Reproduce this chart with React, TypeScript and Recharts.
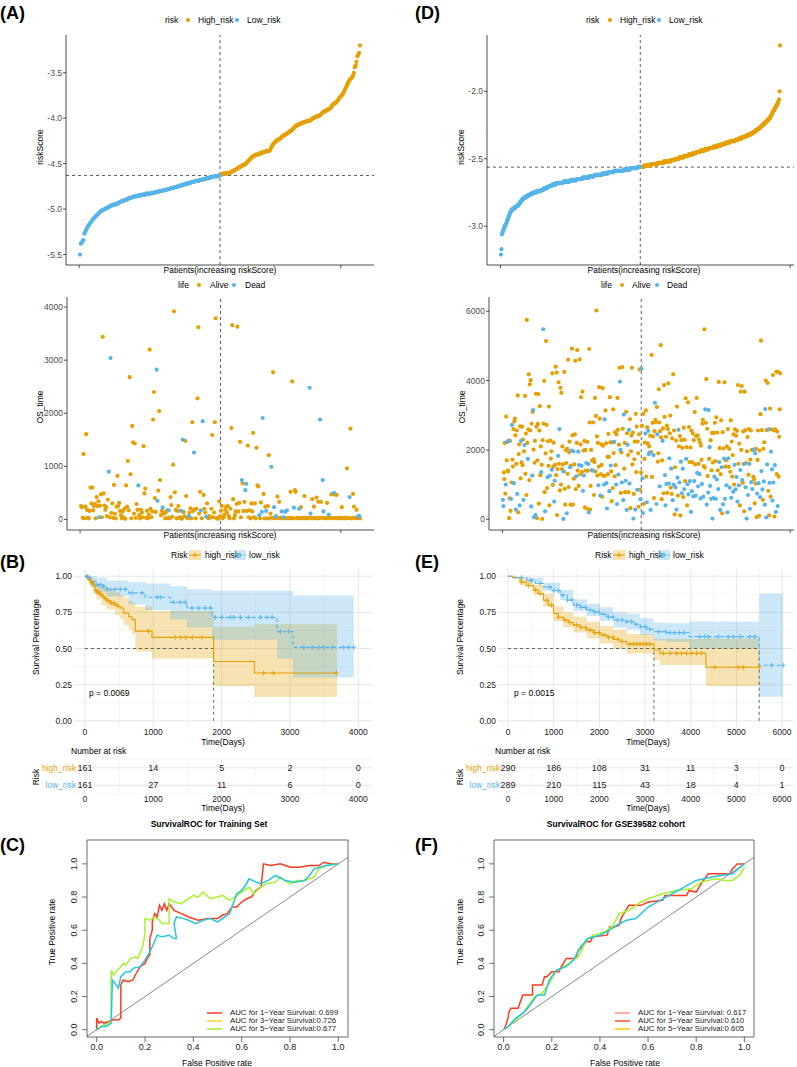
import React from 'react';
import {
  ScatterChart, Scatter, ComposedChart, Line, Area, XAxis, YAxis,
  CartesianGrid, ReferenceLine, ReferenceArea,
} from 'recharts';

const ORANGE = '#E69F00';
const BLUE = '#56B4E9';
const FONT = '"Liberation Sans", Arial, Helvetica, sans-serif';
const AXIS_TEXT = '#4D4D4D';

// ---------- training set: sorted risk scores ----------
const trainLowScore = [
  -5.50, -5.38, -5.37, -5.35, -5.34, -5.27, -5.25, -5.23, -5.21, -5.19,
  -5.18, -5.16, -5.15, -5.14, -5.12, -5.11, -5.10, -5.09, -5.08, -5.07,
  -5.06, -5.05, -5.04, -5.03, -5.02, -5.02, -5.01, -5.01, -5.00, -5.00,
  -4.99, -4.99, -4.98, -4.98, -4.97, -4.97, -4.96, -4.96, -4.95, -4.95,
  -4.95, -4.95, -4.94, -4.94, -4.93, -4.93, -4.92, -4.92, -4.91, -4.91,
  -4.91, -4.90, -4.90, -4.90, -4.89, -4.89, -4.88, -4.88, -4.88, -4.87,
  -4.87, -4.87, -4.86, -4.86, -4.86, -4.86, -4.86, -4.85, -4.85, -4.85,
  -4.85, -4.84, -4.84, -4.84, -4.84, -4.84, -4.83, -4.83, -4.83, -4.83,
  -4.83, -4.83, -4.82, -4.82, -4.82, -4.82, -4.82, -4.81, -4.81, -4.81,
  -4.81, -4.80, -4.80, -4.80, -4.80, -4.80, -4.79, -4.79, -4.79, -4.79,
  -4.78, -4.78, -4.78, -4.78, -4.77, -4.77, -4.77, -4.77, -4.76, -4.76,
  -4.76, -4.76, -4.75, -4.75, -4.75, -4.74, -4.74, -4.74, -4.73, -4.73,
  -4.73, -4.72, -4.72, -4.72, -4.72, -4.71, -4.71, -4.71, -4.70, -4.70,
  -4.70, -4.70, -4.69, -4.69, -4.69, -4.69, -4.69, -4.68, -4.68, -4.68,
  -4.68, -4.67, -4.67, -4.67, -4.67, -4.66, -4.66, -4.66, -4.66, -4.65,
  -4.65, -4.65, -4.65, -4.64, -4.64, -4.64, -4.64, -4.64, -4.64, -4.63,
  -4.63,
];
const trainHighScore = [
  -4.62, -4.62, -4.62, -4.61, -4.61, -4.61, -4.61, -4.61, -4.60, -4.60,
  -4.60, -4.60, -4.60, -4.59, -4.58, -4.58, -4.57, -4.57, -4.56, -4.56,
  -4.55, -4.54, -4.54, -4.53, -4.53, -4.52, -4.52, -4.51, -4.51, -4.50,
  -4.49, -4.48, -4.47, -4.46, -4.45, -4.44, -4.43, -4.42, -4.42, -4.41,
  -4.41, -4.40, -4.40, -4.40, -4.39, -4.39, -4.39, -4.38, -4.38, -4.37,
  -4.37, -4.37, -4.37, -4.36, -4.36, -4.36, -4.36, -4.35, -4.33, -4.31,
  -4.29, -4.28, -4.27, -4.26, -4.25, -4.24, -4.24, -4.23, -4.23, -4.22,
  -4.21, -4.20, -4.19, -4.19, -4.18, -4.18, -4.17, -4.16, -4.16, -4.15,
  -4.14, -4.14, -4.13, -4.12, -4.11, -4.10, -4.09, -4.08, -4.08, -4.07,
  -4.07, -4.06, -4.06, -4.05, -4.05, -4.05, -4.04, -4.04, -4.04, -4.03,
  -4.03, -4.03, -4.03, -4.02, -4.02, -4.01, -4.00, -4.00, -3.99, -3.99,
  -3.98, -3.98, -3.98, -3.97, -3.97, -3.96, -3.95, -3.94, -3.93, -3.93,
  -3.92, -3.92, -3.91, -3.91, -3.90, -3.90, -3.89, -3.88, -3.86, -3.85,
  -3.84, -3.84, -3.83, -3.82, -3.81, -3.80, -3.78, -3.77, -3.76, -3.75,
  -3.74, -3.72, -3.70, -3.68, -3.66, -3.64, -3.62, -3.60, -3.58, -3.57,
  -3.56, -3.55, -3.53, -3.50, -3.44, -3.42, -3.38, -3.32, -3.30, -3.28,
  -3.20,
];
const trainCutoff = -4.63;

// overall survival (days), same patient order as the scores
const trainOsTime = [
  250, 230, 30, 1230, 20, 240, 1605, 180, 30, 20,
  160, 600, 300, 600, 170, 250, 290, 20, 420, 250,
  340, 40, 260, 470, 40, 3440, 490, 260, 180, 230,
  60, 370, 900, 40, 3040, 120, 300, 30, 650, 110,
  20, 240, 820, 250, 310, 160, 80, 20, 150, 40,
  200, 10, 640, 240, 1100, 170, 2680, 850, 20, 1760,
  1450, 110, 1430, 30, 290, 180, 640, 80, 20, 180,
  130, 40, 1380, 490, 580, 30, 160, 20, 90, 3200,
  200, 40, 150, 1880, 2400, 400, 140, 2820, 350, 540,
  2040, 740, 80, 160, 220, 120, 110, 20, 140, 170,
  30, 170, 20, 420, 270, 50, 1030, 3920, 510, 180,
  20, 160, 250, 30, 40, 160, 10, 1500, 140, 60,
  1480, 440, 30, 20, 60, 130, 210, 20, 1830, 160,
  1260, 190, 20, 200, 2280, 3620, 110, 520, 170, 20,
  1850, 460, 200, 130, 50, 300, 30, 20, 60, 40,
  200, 1590, 40, 130, 1830, 3790, 20, 30, 10, 340, 60,
  160, 250, 20, 40, 90, 180, 240, 130, 250, 60,
  20, 200, 1720, 3660, 380, 20, 80, 150, 290, 3630,
  150, 310, 1460, 40, 740, 680, 160, 330, 550, 670,
  160, 1390, 40, 170, 20, 300, 150, 1630, 40, 300,
  20, 1350, 640, 620, 80, 20, 320, 140, 1910, 480,
  20, 240, 160, 20, 250, 1210, 20, 110, 990, 30,
  2770, 230, 20, 60, 30, 430, 20, 330, 30, 25,
  150, 20, 40, 25, 140, 20, 170, 25, 30, 20,
  520, 25, 2600, 20, 220, 550, 520, 25, 30, 20,
  200, 25, 230, 20, 30, 25, 440, 20, 30, 25,
  20, 30, 2480, 110, 25, 380, 20, 240, 30, 25,
  410, 20, 330, 25, 1880, 330, 30, 740, 150, 20,
  25, 30, 310, 20, 90, 25, 30, 470, 20, 25,
  500, 470, 25, 460, 20, 30, 25, 20, 30, 230,
  25, 20, 30, 25, 20, 960, 30, 25, 420, 1710,
  20, 25, 480, 240, 30, 20, 180, 25, 60, 60, 20,
];
// 1-based patient positions whose status is Dead
const trainDeadIdx = [
  22, 33, 35, 67, 88, 89, 95, 102, 116, 118, 125, 131, 139, 141, 145,
  186, 190, 191, 206, 209, 210, 214, 220, 223, 225, 232, 234, 236, 238,
  246, 252, 264, 265, 276, 279, 280, 286, 292, 310, 320, 321,
];

// ---------- GSE39582: sorted risk scores ----------
const gseLowScore = [
  -3.21, -3.17, -3.06, -3.05, -3.04, -3.03, -3.02, -3.01, -3.00, -2.99, -2.99, -2.98, -2.97, -2.96,
  -2.95, -2.94, -2.93, -2.92, -2.91, -2.90, -2.89, -2.89, -2.88, -2.88, -2.87, -2.87, -2.87,
  -2.87, -2.86, -2.86, -2.86, -2.86, -2.85, -2.85, -2.85, -2.85, -2.84,
  -2.84, -2.83, -2.83, -2.82, -2.82, -2.81, -2.81, -2.80, -2.80, -2.80,
  -2.79, -2.79, -2.79, -2.79, -2.78, -2.78, -2.78, -2.78, -2.78, -2.77, -2.77, -2.77, -2.77, -2.77,
  -2.76, -2.76, -2.76, -2.76, -2.76, -2.75, -2.75, -2.75, -2.75, -2.75, -2.75, -2.75, -2.75,
  -2.74, -2.74, -2.74, -2.74, -2.74, -2.74, -2.74, -2.74,
  -2.74, -2.73, -2.73, -2.73, -2.73, -2.73, -2.73, -2.72, -2.72, -2.72, -2.72, -2.72, -2.72,
  -2.71, -2.71, -2.71, -2.71, -2.71, -2.70, -2.70, -2.70,
  -2.70, -2.70, -2.70, -2.70, -2.69, -2.69, -2.69, -2.69, -2.69, -2.69, -2.69, -2.69,
  -2.68, -2.68, -2.68, -2.68, -2.68, -2.68, -2.68, -2.68,
  -2.68, -2.68, -2.68, -2.68, -2.68, -2.68, -2.67, -2.67, -2.67, -2.67, -2.67, -2.67, -2.67,
  -2.67, -2.67, -2.67, -2.67, -2.67, -2.67, -2.67, -2.66, -2.66, -2.66, -2.66, -2.66, -2.66, -2.66, -2.66,
  -2.66, -2.66, -2.66, -2.66, -2.66, -2.66, -2.65, -2.65, -2.65, -2.65, -2.65, -2.65, -2.65, -2.65,
  -2.65, -2.65, -2.65, -2.65, -2.64, -2.64, -2.64, -2.64, -2.64, -2.64, -2.64, -2.64, -2.64, -2.64,
  -2.64, -2.64, -2.64, -2.64, -2.63, -2.63, -2.63, -2.63, -2.63, -2.63, -2.63, -2.63, -2.63, -2.63, -2.63,
  -2.62, -2.62, -2.62, -2.62, -2.62, -2.62, -2.62, -2.62, -2.62, -2.62, -2.62, -2.62,
  -2.62, -2.62, -2.62, -2.62, -2.61, -2.61, -2.61, -2.61, -2.61, -2.61, -2.61, -2.61, -2.61, -2.61, -2.61, -2.61,
  -2.60, -2.60, -2.60, -2.60, -2.60, -2.60, -2.60, -2.60, -2.60, -2.60, -2.60, -2.60,
  -2.59, -2.59, -2.59, -2.59, -2.59, -2.59,
  -2.59, -2.59, -2.59, -2.59, -2.59, -2.59, -2.59, -2.59, -2.59, -2.59, -2.59, -2.59, -2.59, -2.59,
  -2.58, -2.58, -2.58, -2.58, -2.58, -2.58, -2.58, -2.58, -2.58, -2.58, -2.58, -2.58, -2.58, -2.58,
  -2.57, -2.57, -2.57, -2.57, -2.57, -2.57, -2.57,
  -2.57, -2.57, -2.57, -2.57, -2.57, -2.57, -2.57, -2.57, -2.56, -2.56, -2.56, -2.56, -2.56, -2.56,
];
const gseHighScore = [
  -2.56, -2.56, -2.56, -2.56, -2.56, -2.56, -2.56, -2.56,
  -2.55, -2.55, -2.55, -2.55, -2.55, -2.55, -2.55, -2.55, -2.55, -2.55, -2.55, -2.55, -2.55, -2.55,
  -2.54, -2.54, -2.54, -2.54, -2.54, -2.54, -2.54, -2.54, -2.54, -2.54, -2.54, -2.54, -2.54, -2.54,
  -2.53, -2.53, -2.53, -2.53, -2.53, -2.53, -2.53, -2.53, -2.53, -2.53, -2.53, -2.53, -2.53,
  -2.52, -2.52, -2.52, -2.52, -2.52, -2.52,
  -2.52, -2.52, -2.52, -2.52, -2.52, -2.52, -2.52, -2.52,
  -2.51, -2.51, -2.51, -2.51, -2.51, -2.51, -2.51, -2.51, -2.51,
  -2.50, -2.50, -2.50, -2.50, -2.50, -2.50, -2.50, -2.50, -2.50,
  -2.49, -2.49, -2.49, -2.49, -2.49, -2.49, -2.49, -2.49, -2.49,
  -2.48, -2.48, -2.48, -2.48, -2.48, -2.48, -2.48, -2.48, -2.48,
  -2.47, -2.47, -2.47, -2.47, -2.47, -2.47, -2.47, -2.47, -2.47,
  -2.46, -2.46, -2.46, -2.46, -2.46, -2.46, -2.46, -2.46,
  -2.45, -2.45, -2.45, -2.45, -2.45, -2.45, -2.45, -2.45,
  -2.44, -2.44, -2.44, -2.44, -2.44, -2.44, -2.44, -2.44, -2.44,
  -2.43, -2.43, -2.43, -2.43, -2.43, -2.43, -2.43, -2.43, -2.43,
  -2.42, -2.42, -2.42, -2.42, -2.42, -2.42, -2.42, -2.42, -2.42,
  -2.41, -2.41, -2.41, -2.41, -2.41, -2.41, -2.41, -2.41, -2.41,
  -2.40, -2.40, -2.40, -2.40, -2.40, -2.40, -2.40, -2.40, -2.40,
  -2.39, -2.39, -2.39, -2.39, -2.39, -2.39, -2.39, -2.39,
  -2.38, -2.38, -2.38, -2.38, -2.38, -2.38, -2.38, -2.38,
  -2.37, -2.37, -2.37, -2.37, -2.37, -2.37, -2.37, -2.37,
  -2.37, -2.37, -2.37, -2.36, -2.36, -2.36, -2.36, -2.36, -2.36, -2.36,
  -2.35, -2.35, -2.35, -2.35, -2.35, -2.35, -2.35, -2.34, -2.34, -2.34, -2.34, -2.34, -2.34, -2.34,
  -2.33, -2.33, -2.33, -2.33, -2.33, -2.33, -2.32, -2.32, -2.32, -2.32, -2.32,
  -2.32, -2.32, -2.31, -2.31, -2.31, -2.31, -2.30, -2.30, -2.30, -2.30,
  -2.29, -2.29, -2.29, -2.29, -2.28, -2.28, -2.28, -2.28, -2.27, -2.27, -2.27,
  -2.26, -2.26, -2.26, -2.25, -2.25, -2.25, -2.24, -2.24, -2.24, -2.23,
  -2.23, -2.23, -2.22, -2.22, -2.22, -2.21, -2.21, -2.20, -2.20, -2.20,
  -2.19, -2.18, -2.18, -2.17, -2.16, -2.15, -2.15, -2.14, -2.14, -2.13,
  -2.12, -2.12, -2.11, -2.10, -2.10, -2.09, -2.08, -2.07,
  -2.06, -2.00, -1.66,
];
const gseCutoff = -2.562;

const gseOsTime = [
  560, 380, 1350, 1160, 2200, 740, 1000, 2960, 1700, 2230, 1400, 1380, 2270, 30, 600, 2260, 240, 590, 1060, 2720,
  1720, 1520, 2600, 1040, 2820, 2900, 2420, 280, 1600, 2560, 730, 3570, 200, 1880, 2160, 400, 2680, 1180, 2260, 1640,
  2670, 1560, 2300, 560, 1960, 2140, 3560, 1310, 2470, 700, 5750, 2200, 1740, 2590, 4180, 1130, 3890, 2560, 4010, 370,
  2760, 1260, 3100, 3150, 2010, 60, 1630, 2260, 120, 3620, 2670, 30, 1700, 2750, 3610, 450, 2560, 3260, 1270, 2100,
  1360, 1570, 10, 2280, 5480, 2760, 3990, 780, 230, 1900, 5140, 2720, 900, 1210, 2250, 1540, 3250, 400, 1260, 2270,
  1750, 1960, 1430, 4210, 990, 1520, 2210, 510, 1110, 1570, 4400, 1270, 4230, 120, 1450, 1830, 3950, 1600, 2600, 830,
  3790, 1000, 3650, 1450, 2100, 1580, 10, 1380, 4250, 880, 420, 1990, 1620, 170, 2030, 1310, 4600, 930, 1930, 2240,
  1500, 420, 1550, 1980, 4920, 2420, 420, 1960, 1170, 1580, 2450, 4570, 870, 1240, 2200, 4880, 1400, 1950, 960, 1560,
  4610, 1290, 2160, 3520, 1540, 1370, 3680, 820, 1980, 1260, 2260, 340, 2000, 1400, 1620, 310, 2230, 1400, 1590, 200,
  4910, 2790, 280, 960, 2000, 1420, 1690, 1400, 2790, 1730, 700, 1650, 3500, 1380, 2980, 6020, 2390, 1260, 2200, 980,
  1520, 3810, 2900, 680, 1300, 2160, 1570, 650, 3780, 2120, 1250, 1000, 2880, 1260, 3140, 2190, 1040, 310, 1800, 1300,
  2460, 1800, 810, 3520, 2220, 1550, 1380, 520, 2220, 900, 3170, 1910, 2230, 1240, 2510, 1560, 1000, 2450, 440, 3500,
  2580, 1290, 2150, 4370, 3970, 2000, 760, 1930, 1060, 4390, 2610, 550, 3020, 1460, 2200, 780, 1110, 3100, 270, 2480,
  2150, 1850, 780, 2580, 1030, 2890, 320, 1960, 2410, 4370, 1580, 2500, 20, 730, 1730, 2240, 280, 3040, 1360, 2670,
  850, 2240, 1900, 360, 2450, 4320, 850, 580, 1350, 4340, 2700, 1180, 180, 3040, 450, 1740, 2210, 2470, 3140, 1230,
  490, 2650, 2190, 2550, 1880, 2100, 1920, 2410, 270, 1940, 4740, 1220, 2780, 2390, 1850, 610, 2540, 3360, 2870, 2800,
  440, 3240, 2450, 1660, 1900, 3750, 2790, 950, 2540, 5020, 2360, 580, 1700, 2260, 2620, 750, 3870, 2950, 1270, 400,
  2380, 1020, 2700, 760, 2600, 3920, 1030, 1760, 2480, 2990, 910, 1460, 730, 2330, 550, 4180, 1000, 2560, 140, 1500,
  920, 2270, 280, 3250, 1200, 680, 2580, 2100, 1060, 2400, 110, 1660, 2280, 750, 2060, 1460, 640, 2640, 870, 2290,
  1100, 3490, 1740, 2080, 400, 1010, 3370, 720, 2660, 1650, 1100, 2070, 210, 2560, 810, 1640, 2470, 660, 2280, 1100,
  3090, 1580, 680, 2400, 3500, 1340, 2420, 950, 1600, 2300, 1300, 2210, 600, 2120, 1710, 1020, 2760, 2870, 650, 1530,
  5480, 1490, 3170, 2780, 4040, 420, 2610, 1250, 770, 3150, 1740, 2080, 960, 2280, 590, 1410, 2490, 20, 1640, 610,
  2490, 1230, 2780, 1680, 590, 2940, 1150, 2500, 1410, 870, 3960, 1650, 2050, 270, 1300, 2850, 1500, 170, 2510, 430,
  2040, 1750, 3950, 590, 1520, 1700, 980, 2100, 200, 2600, 1760, 1510, 2030, 910, 1370, 2850, 620, 2240, 1230, 1850,
  790, 2450, 1000, 1570, 2590, 860, 2410, 1220, 2550, 510, 3870, 1600, 980, 2180, 400, 1420, 3680, 2000, 3840, 1130,
  1050, 2530, 1590, 230, 3680, 2570, 920, 1620, 20, 1960, 2370, 700, 1280, 2600, 1600, 300, 1720, 2560, 1070, 2000,
  870, 2000, 1220, 2010, 1150, 460, 1900, 1030, 2030, 60, 740, 1710, 2560, 1040, 100, 1980, 640, 3030, 5150, 1390,
  2570, 860, 560, 2030, 1090, 2220, 420, 3180, 4000, 50, 2570, 1580, 3930, 820, 2590, 110, 1050, 3190, 650, 1950,
  2590, 1440, 540, 4160, 1060, 2560, 80, 1560, 2590, 210, 4260, 1300, 2530, 380, 4250, 1230, 2380, 3170, 4210,
];
// A = Alive, D = Dead, in patient order
const gseStatus = [
  'DDAAAADAADAADAAAADAD', 'AAADAAADAADAAAADAADA', 'AAADADAAAAAADAAAAAAD', 'ADADADAADAAAAAAAAAAA',
  'DAAADAAADAAAADAAAADA', 'AADAAAADDAAAAAADAADA', 'AAAAAADDAAAAADAAAAAA', 'DAADAAADAAAAADAAADAD',
  'AAAADAADADAAAADAAADD', 'AAAAADADAAAAAAAAAAAD', 'AAADAAAAAAADDAAADDAA', 'AADAADAAAAAADAAADADA',
  'ADAADDAADAADDAAADADA', 'DAADDAAAAAAADAAADAAA', 'DAAAAAADADADDAAAADAA', 'DAADDADADAAAAADAADAA',
  'DADAAAADAAAAADAAAADD', 'ADAAAADDAAADAADADAAA', 'DADADADADAADADADAADA', 'AADAADADAADADADAADAD',
  'AADAADADAADADAADAADA', 'AADAADAADDADDADAADAD', 'ADAADADAADADADAADAAD', 'ADADAADADADAADAADAAA',
  'DAADADADADAADAADAAAD', 'AADAAADADAADAADDAADA', 'DAADAADAAADAADAADAAD', 'ADAADADDADADAADADAAD',
  'ADDADAADADAAADAAAAA',
].join('');

// ---------- Kaplan-Meier: [time, survival] and [time, lower, upper] ----------
const trainHighKm = [
  [0, 1], [30, 0.99], [60, 0.975], [90, 0.96], [110, 0.945], [130, 0.93], [150, 0.905], [170, 0.89],
  [210, 0.875], [240, 0.86], [280, 0.845], [320, 0.83], [380, 0.815], [440, 0.8], [480, 0.79],
  [517, 0.78], [566, 0.745], [640, 0.72], [688, 0.7], [737, 0.62], [981, 0.577], [1883, 0.41],
  [2479, 0.33], [3689, 0.33],
];
const trainHighCi = [
  [0, 1, 1], [30, 0.97, 1], [60, 0.94, 1], [90, 0.92, 0.99], [130, 0.88, 0.98], [170, 0.84, 0.95],
  [240, 0.8, 0.93], [320, 0.77, 0.91], [440, 0.73, 0.89], [517, 0.7, 0.87], [566, 0.66, 0.85],
  [640, 0.63, 0.83], [688, 0.6, 0.82], [737, 0.48, 0.79], [981, 0.43, 0.76], [1883, 0.24, 0.65],
  [2479, 0.165, 0.67], [3689, 0.165, 0.67],
];
const trainLowKm = [
  [0, 1], [40, 0.99], [79, 0.97], [120, 0.96], [176, 0.94], [274, 0.93], [322, 0.91], [639, 0.885],
  [883, 0.855], [1249, 0.82], [1493, 0.78], [1859, 0.715], [2810, 0.616], [3044, 0.508], [3933, 0.508],
];
const trainLowCi = [
  [0, 1, 1], [79, 0.93, 1], [176, 0.89, 0.99], [322, 0.86, 0.97], [639, 0.805, 0.96], [883, 0.766, 0.95],
  [1249, 0.7, 0.93], [1493, 0.646, 0.91], [1859, 0.56, 0.9], [2810, 0.43, 0.9], [3044, 0.3, 0.866],
  [3933, 0.3, 0.866],
];
const trainHighCensor = [40, 70, 95, 120, 150, 175, 200, 230, 270, 300, 340, 380, 420, 470, 930, 1320, 1400, 1470, 1570, 1710, 2615, 2760, 3680];
const trainLowCensor = [
  30, 60, 176, 225, 274, 322, 371, 444, 517, 590, 688, 834, 1054, 1103, 1298, 1395, 1469, 1566, 1664, 1762,
  1835, 1908, 2006, 2128, 2176, 2274, 2396, 2567, 2664, 2737, 2860, 2981, 3201, 3323, 3421, 3494, 3616, 3787, 3860, 3933,
];
const trainMedians = [1883];
const trainP = 'p = 0.0069';

const gseHighKm = [
  [0, 1], [100, 0.99], [263, 0.96], [400, 0.935], [554, 0.905], [650, 0.88], [773, 0.834], [880, 0.8],
  [992, 0.742], [1100, 0.715], [1211, 0.696], [1320, 0.68], [1430, 0.662], [1580, 0.645], [1722, 0.627],
  [1870, 0.61], [2013, 0.593], [2160, 0.578], [2305, 0.563], [2450, 0.548], [2597, 0.531], [3195, 0.49],
  [3326, 0.467], [4333, 0.37], [5500, 0.37],
];
const gseHighCi = [
  [0, 1, 1], [263, 0.94, 0.98], [554, 0.87, 0.94], [773, 0.79, 0.88], [992, 0.69, 0.79], [1211, 0.645, 0.75],
  [1430, 0.61, 0.72], [1722, 0.57, 0.685], [2013, 0.535, 0.655], [2305, 0.5, 0.63], [2597, 0.465, 0.6],
  [3195, 0.42, 0.57], [3326, 0.385, 0.565], [4333, 0.24, 0.57], [5500, 0.24, 0.57],
];
const gseLowKm = [
  [0, 1], [150, 0.99], [409, 0.972], [600, 0.95], [773, 0.926], [950, 0.9], [1138, 0.869], [1300, 0.835],
  [1430, 0.8], [1580, 0.785], [1722, 0.766], [1870, 0.752], [2013, 0.738], [2160, 0.718], [2305, 0.697],
  [2597, 0.686], [2750, 0.668], [2888, 0.651], [3040, 0.633], [3180, 0.616], [3472, 0.609], [3967, 0.582],
  [5500, 0.384], [6024, 0.384],
];
const gseLowCi = [
  [0, 1, 1], [409, 0.955, 0.99], [773, 0.9, 0.955], [1138, 0.835, 0.905], [1430, 0.76, 0.84],
  [1722, 0.725, 0.81], [2013, 0.69, 0.785], [2305, 0.645, 0.75], [2597, 0.63, 0.74], [2888, 0.595, 0.71],
  [3180, 0.555, 0.68], [3472, 0.545, 0.675], [3967, 0.5, 0.686], [5500, 0.166, 0.88], [6024, 0.166, 0.88],
];
const gseHighCensor = [
  300, 450, 600, 700, 850, 950, 1100, 1250, 1350, 1500, 1600, 1700, 1800, 1900, 2000, 2100, 2200, 2300, 2400, 2500,
  2670, 2742, 2816, 2888, 2961, 3035, 3107, 3399, 3545, 3691, 3801, 3910, 4020, 4129, 4238, 4530, 5040, 5150, 5500,
];
const gseLowCensor = [
  300, 500, 700, 900, 1000, 1100, 1200, 1300, 1400, 1500, 1600, 1700, 1800, 1900, 2000, 2100, 2200, 2300, 2400,
  2500, 2600, 2700, 2800, 2900, 3000, 3100, 3300, 3450, 3550, 3650, 3750, 3850, 4201, 4311, 4384, 4603, 4821,
  4930, 5077, 5295, 5405, 5770, 6024,
];
const gseMedians = [3195, 5500];
const gseP = 'p = 0.0015';

// numbers at risk
const trainRiskTimes = [0, 1000, 2000, 3000, 4000];
const trainHighAtRisk = [161, 14, 5, 2, 0];
const trainLowAtRisk = [161, 27, 11, 6, 0];
const gseRiskTimes = [0, 1000, 2000, 3000, 4000, 5000, 6000];
const gseHighAtRisk = [290, 186, 108, 31, 11, 3, 0];
const gseLowAtRisk = [289, 210, 115, 43, 18, 4, 1];

// ---------- time-dependent ROC: [FPR, TPR] ----------
const trainRoc1y = [
  [0, 0], [0, 0.07], [0.01, 0.04], [0.02, 0.05], [0.03, 0.04], [0.05, 0.05], [0.07, 0.06], [0.09, 0.06],
  [0.1, 0.07], [0.1, 0.27], [0.11, 0.3], [0.13, 0.29], [0.15, 0.3], [0.16, 0.33], [0.18, 0.38], [0.2, 0.4],
  [0.21, 0.43], [0.22, 0.45], [0.22, 0.55], [0.23, 0.6], [0.23, 0.65], [0.24, 0.7], [0.25, 0.68], [0.26, 0.75],
  [0.27, 0.72], [0.28, 0.76], [0.29, 0.72], [0.3, 0.76], [0.32, 0.72], [0.35, 0.7], [0.38, 0.68], [0.42, 0.66],
  [0.46, 0.67], [0.5, 0.67], [0.52, 0.69], [0.54, 0.7], [0.56, 0.74], [0.58, 0.74], [0.6, 0.77], [0.62, 0.79],
  [0.64, 0.8], [0.66, 0.84], [0.68, 0.86], [0.69, 1.0], [0.72, 0.99], [0.76, 1.0], [0.8, 0.98], [0.84, 0.98],
  [0.88, 0.99], [0.92, 0.99], [0.94, 1.01], [0.97, 1.0], [1, 1],
];
const trainRoc5y = [
  [0, 0], [0.02, 0.02], [0.04, 0.03], [0.06, 0.05], [0.06, 0.36], [0.07, 0.33], [0.08, 0.35], [0.1, 0.38],
  [0.11, 0.4], [0.12, 0.39], [0.14, 0.43], [0.16, 0.44], [0.17, 0.43], [0.19, 0.5], [0.2, 0.58], [0.2, 0.67],
  [0.22, 0.66], [0.24, 0.68], [0.26, 0.66], [0.27, 0.64], [0.3, 0.64], [0.3, 0.79], [0.32, 0.77], [0.35, 0.76],
  [0.38, 0.79], [0.4, 0.81], [0.42, 0.8], [0.44, 0.83], [0.47, 0.79], [0.5, 0.8], [0.52, 0.81], [0.55, 0.78],
  [0.58, 0.81], [0.6, 0.83], [0.63, 0.86], [0.65, 0.82], [0.68, 0.86], [0.7, 0.88], [0.74, 0.89], [0.76, 0.92],
  [0.8, 0.88], [0.83, 0.9], [0.86, 0.9], [0.9, 0.92], [0.92, 0.97], [0.95, 0.99], [1, 1],
];
const trainRoc3y = [
  [0, 0], [0.02, 0.02], [0.04, 0.02], [0.06, 0.04], [0.065, 0.3], [0.08, 0.27], [0.09, 0.25], [0.1, 0.32],
  [0.12, 0.35], [0.14, 0.35], [0.15, 0.37], [0.18, 0.38], [0.2, 0.42], [0.22, 0.47], [0.23, 0.5], [0.25, 0.57],
  [0.27, 0.56], [0.3, 0.57], [0.32, 0.55], [0.33, 0.55], [0.32, 0.64], [0.33, 0.68], [0.36, 0.67], [0.38, 0.66],
  [0.41, 0.64], [0.44, 0.66], [0.47, 0.67], [0.5, 0.65], [0.53, 0.68], [0.55, 0.7], [0.57, 0.78], [0.58, 0.82],
  [0.6, 0.84], [0.62, 0.88], [0.63, 0.91], [0.66, 0.89], [0.68, 0.88], [0.71, 0.9], [0.74, 0.93], [0.78, 0.9],
  [0.82, 0.89], [0.86, 0.9], [0.88, 0.93], [0.9, 0.97], [0.95, 0.99], [1, 1],
];
const gseRocA = [
  [0, 0], [0.01, 0.03], [0.02, 0.08], [0.02, 0.1], [0.03, 0.13], [0.06, 0.13], [0.07, 0.17], [0.08, 0.21],
  [0.12, 0.21], [0.12, 0.27], [0.16, 0.27], [0.17, 0.32], [0.18, 0.32], [0.2, 0.35], [0.23, 0.35], [0.24, 0.38],
  [0.26, 0.43], [0.3, 0.43], [0.31, 0.48], [0.33, 0.5], [0.34, 0.53], [0.36, 0.53], [0.37, 0.56], [0.43, 0.57],
  [0.44, 0.62], [0.46, 0.62], [0.48, 0.63], [0.49, 0.68], [0.5, 0.7], [0.52, 0.75], [0.57, 0.75], [0.6, 0.77],
  [0.66, 0.78], [0.67, 0.81], [0.76, 0.81], [0.77, 0.84], [0.8, 0.83], [0.82, 0.88], [0.85, 0.94], [0.94, 0.94],
  [0.95, 0.97], [0.97, 1.0], [1, 1],
];
const gseRocB = [
  [0, 0], [0.02, 0.02], [0.05, 0.06], [0.08, 0.1], [0.1, 0.14], [0.13, 0.2], [0.16, 0.22], [0.19, 0.28],
  [0.22, 0.36], [0.24, 0.37], [0.27, 0.4], [0.31, 0.44], [0.34, 0.53], [0.37, 0.57], [0.4, 0.58], [0.43, 0.6],
  [0.45, 0.62], [0.48, 0.7], [0.52, 0.72], [0.57, 0.77], [0.6, 0.79], [0.66, 0.82], [0.72, 0.84], [0.78, 0.85],
  [0.82, 0.89], [0.88, 0.91], [0.92, 0.9], [0.95, 0.9], [0.98, 0.93], [1, 0.98],
];
const gseRocC = [
  [0, 0], [0.02, 0.02], [0.05, 0.07], [0.08, 0.1], [0.1, 0.13], [0.12, 0.17], [0.14, 0.21], [0.17, 0.21],
  [0.19, 0.3], [0.22, 0.36], [0.26, 0.38], [0.29, 0.42], [0.32, 0.5], [0.35, 0.55], [0.4, 0.57], [0.44, 0.6],
  [0.47, 0.63], [0.51, 0.66], [0.55, 0.67], [0.6, 0.74], [0.65, 0.78], [0.7, 0.82], [0.75, 0.86], [0.8, 0.9],
  [0.86, 0.92], [0.9, 0.93], [0.95, 0.94], [1, 1],
];
const trainRocLegend = [
  ['AUC for 1\u2212Year Survival: 0.699', '#FF4A2A'],
  ['AUC for 3\u2212Year Survival:0.726', '#FFD43B'],
  ['AUC for 5\u2212Year Survival:0.677', '#A8F23A'],
];
const gseRocLegend = [
  ['AUC for 1\u2212Year Survival: 0.617', '#FF9C8C'],
  ['AUC for 3\u2212Year Survival:0.610', '#FF5A36'],
  ['AUC for 5\u2212Year Survival:0.605', '#FFC81E'],
];

// ---------- helpers ----------
type Rect = { left: number; top: number; width: number; height: number };
type Plot = { x0: number; x1: number; y0: number; y1: number };

function frame(box: Rect, p: Plot) {
  return {
    yW: p.x0 - box.left,
    xH: box.top + box.height - p.y1,
    margin: { top: p.y0 - box.top, right: box.left + box.width - p.x1, bottom: 0, left: 0 },
  };
}

function Txt({ x, y, children, size = 8.5, bold = false, color = '#000', anchor = 'middle', rotate = false }: any) {
  const tx = anchor === 'start' ? '0' : anchor === 'end' ? '-100%' : '-50%';
  return (
    <div
      style={{
        position: 'absolute', left: x, top: y, whiteSpace: 'nowrap', lineHeight: 1,
        transform: `translate(${tx},-50%)${rotate ? ' rotate(-90deg)' : ''}`,
        fontSize: size, fontWeight: bold ? 700 : 400, color,
      }}
    >
      {children}
    </div>
  );
}

const Dot = ({ x, y, color }: any) => (
  <div style={{ position: 'absolute', left: x - 2, top: y - 2, width: 4, height: 4, borderRadius: 2, background: color }} />
);

const KmKey = ({ x, y, color, dashed }: any) => (
  <svg style={{ position: 'absolute', left: x, top: y - 5 }} width={12} height={10}>
    <rect x={0} y={0} width={12} height={10} fill={color} fillOpacity={0.3} />
    <line x1={0} x2={12} y1={5} y2={5} stroke={color} strokeWidth={1} strokeDasharray={dashed ? '3 2' : undefined} />
    <path d="M6,2.5v5M3.5,5h5" stroke={color} strokeWidth={1} />
  </svg>
);

const dotShape = (fill: string) => (p: any) => <circle cx={p.cx} cy={p.cy} r={2.1} fill={fill} />;
const plusShape = (stroke: string) => (p: any) => (
  <path d={`M${p.cx - 2.5},${p.cy}h5M${p.cx},${p.cy - 2.5}v5`} stroke={stroke} strokeWidth={0.9} fill="none" />
);

const survAt = (km: number[][], t: number) => {
  let s = 1;
  for (const [tt, v] of km) if (tt <= t) s = v;
  return s;
};

const axisStroke = { stroke: '#222', strokeWidth: 0.8 };

// ---------- patient-ordered scatter panels ----------
function PatientScatter({ box, plot, xDomain, xTicks, yDomain, yTicks, yFmt, series, vline, hline }: any) {
  const f = frame(box, plot);
  return (
    <div style={{ position: 'absolute', left: box.left, top: box.top }}>
      <ScatterChart width={box.width} height={box.height} margin={f.margin}>
        <XAxis
          type="number" dataKey="x" domain={xDomain} ticks={xTicks} interval={0} allowDataOverflow
          tickFormatter={() => ''} height={f.xH} tickSize={3} axisLine={axisStroke} tickLine={axisStroke}
        />
        <YAxis
          type="number" dataKey="y" domain={yDomain} ticks={yTicks} interval={0} allowDataOverflow
          tickFormatter={yFmt} width={f.yW} tickSize={3} tickMargin={1}
          axisLine={axisStroke} tickLine={axisStroke} tick={{ fontSize: 8.5, fill: AXIS_TEXT }}
        />
        {series.map((s: any) => (
          <Scatter key={s.name} name={s.name} data={s.data} shape={dotShape(s.color)} isAnimationActive={false} />
        ))}
        <ReferenceLine x={vline} stroke="#333" strokeDasharray="3 3" strokeWidth={0.8} />
        {hline !== undefined && <ReferenceLine y={hline} stroke="#333" strokeDasharray="3 3" strokeWidth={0.8} />}
      </ScatterChart>
    </div>
  );
}

// ---------- Kaplan-Meier panels ----------
function KmPlot({ box, plot, xDomain, xTicks, xMinor, high, low, highCi, lowCi, highCens, lowCens, medians }: any) {
  const f = frame(box, plot);
  const toLine = (km: number[][]) => km.map(([t, s]) => ({ t, s }));
  const toBand = (ci: number[][]) => ci.map(([t, lo, hi]) => ({ t, range: [lo, hi] }));
  const toCens = (km: number[][], times: number[]) => times.map((t) => ({ t, s: survAt(km, t) }));
  const yTicks = [0, 0.25, 0.5, 0.75, 1];
  const tEnd = Math.max(...medians);
  return (
    <div style={{ position: 'absolute', left: box.left, top: box.top }}>
      <ComposedChart width={box.width} height={box.height} margin={f.margin}>
        <CartesianGrid stroke="#F0F0F0" strokeWidth={0.6} verticalValues={xMinor} horizontalValues={[0.125, 0.375, 0.625, 0.875]} />
        <CartesianGrid stroke="#E6E6E6" strokeWidth={1} verticalValues={xTicks} horizontalValues={yTicks} />
        <XAxis
          type="number" dataKey="t" domain={xDomain} ticks={xTicks} interval={0} allowDataOverflow
          axisLine={false} tickLine={false} tickSize={0} tickMargin={1} height={f.xH}
          tick={{ fontSize: 8.5, fill: '#222' }}
        />
        <YAxis
          type="number" domain={[-0.05, 1.05]} ticks={yTicks} interval={0} allowDataOverflow
          tickFormatter={(v: number) => v.toFixed(2)} width={f.yW} axisLine={false} tickLine={false}
          tickSize={0} tickMargin={2} tick={{ fontSize: 8.5, fill: '#222' }}
        />
        <Area data={toBand(highCi)} dataKey="range" type="stepAfter" fill={ORANGE} fillOpacity={0.3} stroke="none" isAnimationActive={false} />
        <Area data={toBand(lowCi)} dataKey="range" type="stepAfter" fill={BLUE} fillOpacity={0.3} stroke="none" isAnimationActive={false} />
        <ReferenceLine segment={[{ x: 0, y: 0.5 }, { x: tEnd, y: 0.5 }]} stroke="#444" strokeDasharray="3 3" strokeWidth={0.8} />
        {medians.map((m: number) => (
          <ReferenceLine key={m} segment={[{ x: m, y: 0 }, { x: m, y: 0.5 }]} stroke="#444" strokeDasharray="3 3" strokeWidth={0.8} />
        ))}
        <Line data={toLine(high)} dataKey="s" type="stepAfter" stroke={ORANGE} strokeWidth={1.1} dot={false} isAnimationActive={false} />
        <Line data={toLine(low)} dataKey="s" type="stepAfter" stroke={BLUE} strokeWidth={1.1} strokeDasharray="4 2.5" dot={false} isAnimationActive={false} />
        <Scatter data={toCens(high, highCens)} dataKey="s" shape={plusShape(ORANGE)} isAnimationActive={false} />
        <Scatter data={toCens(low, lowCens)} dataKey="s" shape={plusShape(BLUE)} isAnimationActive={false} />
      </ComposedChart>
    </div>
  );
}

// ---------- numbers-at-risk table ----------
const riskTick = (p: any) => (
  <text x={p.x + 2} y={p.y} dy="0.35em" textAnchor="end" fontSize={8.5} fill={p.payload.value === 1 ? ORANGE : BLUE}>
    {p.payload.value === 1 ? 'high_risk' : 'low_risk'}
  </text>
);
const countLabel = (p: any) => (
  <text x={p.cx} y={p.cy} dy="0.35em" textAnchor="middle" fontSize={9} fill="#222">{p.payload.n}</text>
);

function RiskTable({ box, plot, xDomain, xTicks, xMinor, times, highN, lowN }: any) {
  const f = frame(box, plot);
  const highRows = times.map((t: number, i: number) => ({ t, row: 1, n: highN[i] }));
  const lowRows = times.map((t: number, i: number) => ({ t, row: 0, n: lowN[i] }));
  return (
    <div style={{ position: 'absolute', left: box.left, top: box.top }}>
      <ScatterChart width={box.width} height={box.height} margin={f.margin}>
        <CartesianGrid stroke="#F0F0F0" strokeWidth={0.6} verticalValues={xMinor} horizontalValues={[]} />
        <CartesianGrid stroke="#E8E8E8" strokeWidth={1} verticalValues={xTicks} horizontalValues={[0, 1]} />
        <XAxis
          type="number" dataKey="t" domain={xDomain} ticks={xTicks} interval={0} allowDataOverflow
          axisLine={false} tickLine={false} tickSize={0} tickMargin={2} height={f.xH}
          tick={{ fontSize: 8.5, fill: '#222' }}
        />
        <YAxis
          type="number" dataKey="row" domain={[-0.5, 1.5]} ticks={[0, 1]} interval={0}
          width={f.yW} axisLine={false} tickLine={false} tickSize={0} tickMargin={0} tick={riskTick}
        />
        <Scatter data={highRows} shape={countLabel} isAnimationActive={false} />
        <Scatter data={lowRows} shape={countLabel} isAnimationActive={false} />
      </ScatterChart>
    </div>
  );
}

// ---------- ROC panels ----------
const rocTicks = [0, 0.2, 0.4, 0.6, 0.8, 1];
const rocYTick = (p: any) => {
  const x = p.x - 5;
  return (
    <text x={x} y={p.y} transform={`rotate(-90 ${x} ${p.y})`} textAnchor="middle" fontSize={9} fill="#222">
      {p.payload.value.toFixed(1)}
    </text>
  );
};

function RocPlot({ box, plot, curves }: any) {
  const f = frame(box, plot);
  return (
    <div style={{ position: 'absolute', left: box.left, top: box.top }}>
      <ComposedChart width={box.width} height={box.height} margin={f.margin}>
        <XAxis
          type="number" dataKey="x" domain={[-0.04, 1.04]} ticks={rocTicks} interval={0} allowDataOverflow
          tickFormatter={(v: number) => v.toFixed(1)} height={f.xH} axisLine={false}
          tickSize={5} tickMargin={2} tickLine={{ stroke: '#333', strokeWidth: 0.7 }}
          tick={{ fontSize: 9, fill: '#222' }}
        />
        <YAxis
          type="number" domain={[-0.044, 1.144]} ticks={rocTicks} interval={0} allowDataOverflow
          width={f.yW} axisLine={false} tickSize={5} tickMargin={0}
          tickLine={{ stroke: '#333', strokeWidth: 0.7 }} tick={rocYTick}
        />
        <ReferenceArea x1={-0.04} x2={1.04} y1={-0.044} y2={1.144} fill="none" stroke="#444" strokeWidth={0.8} ifOverflow="visible" />
        <ReferenceLine segment={[{ x: -0.04, y: -0.04 }, { x: 1.04, y: 1.04 }]} stroke="#555" strokeWidth={0.7} ifOverflow="visible" />
        {curves.map((c: any) => (
          <Line key={c.name} data={c.pts.map(([x, y]: number[]) => ({ x, y }))} dataKey="y" type="linear"
            stroke={c.color} strokeWidth={1.5} dot={false} isAnimationActive={false} />
        ))}
      </ComposedChart>
    </div>
  );
}

function RocLegend({ x, y, rows }: any) {
  return (
    <>
      <svg style={{ position: 'absolute', left: x, top: y - 3 }} width={16} height={rows.length * 8 + 2}>
        {rows.map(([label, color]: string[], i: number) => (
          <line key={label} x1={0} x2={15} y1={3 + i * 8} y2={3 + i * 8} stroke={color} strokeWidth={1.6} />
        ))}
      </svg>
      {rows.map(([label]: string[], i: number) => (
        <Txt key={label} x={x + 23} y={y + i * 8} size={7.8} anchor="start" color="#222">{label}</Txt>
      ))}
    </>
  );
}

// ---------- page ----------
const trainLowPts = trainLowScore.map((y, i) => ({ x: i + 1, y }));
const trainHighPts = trainHighScore.map((y, i) => ({ x: trainLowScore.length + i + 1, y }));
const gseLowPts = gseLowScore.map((y, i) => ({ x: i + 1, y }));
const gseHighPts = gseHighScore.map((y, i) => ({ x: gseLowScore.length + i + 1, y }));

const trainAlive = trainOsTime.map((y, i) => ({ x: i + 1, y })).filter((p) => !trainDeadIdx.includes(p.x));
const trainDead = trainOsTime.map((y, i) => ({ x: i + 1, y })).filter((p) => trainDeadIdx.includes(p.x));
const gseAlive = gseOsTime.map((y, i) => ({ x: i + 1, y })).filter((p) => gseStatus[p.x - 1] === 'A');
const gseDead = gseOsTime.map((y, i) => ({ x: i + 1, y })).filter((p) => gseStatus[p.x - 1] === 'D');

const fmt1 = (v: number) => v.toFixed(1);
const fmt0 = (v: number) => String(v);

export default function App() {
  const trainSplit = trainLowScore.length + 0.5;
  const gseSplit = gseLowScore.length + 0.5;
  return (
    <div style={{ position: 'absolute', left: 0, top: 0, width: 797, height: 1067, background: '#fff', fontFamily: FONT, overflow: 'hidden' }}>
      {/* risk score distribution */}
      <PatientScatter
        box={{ left: 0, top: 0, width: 400, height: 280 }} plot={{ x0: 66, x1: 374, y0: 35, y1: 265 }}
        xDomain={[-15.05, 338.05]} xTicks={[0, 300]} yDomain={[-5.615, -3.085]} yTicks={[-5.5, -5, -4.5, -4, -3.5]}
        yFmt={fmt1} vline={trainSplit} hline={trainCutoff}
        series={[{ name: 'High_risk', data: trainHighPts, color: ORANGE }, { name: 'Low_risk', data: trainLowPts, color: BLUE }]}
      />
      <PatientScatter
        box={{ left: 400, top: 0, width: 397, height: 280 }} plot={{ x0: 487, x1: 794, y0: 35, y1: 265 }}
        xDomain={[-27.9, 607.9]} xTicks={[0, 600]} yDomain={[-3.2875, -1.5825]} yTicks={[-3, -2.5, -2]}
        yFmt={fmt1} vline={gseSplit} hline={gseCutoff}
        series={[{ name: 'High_risk', data: gseHighPts, color: ORANGE }, { name: 'Low_risk', data: gseLowPts, color: BLUE }]}
      />
      {/* survival status */}
      <PatientScatter
        box={{ left: 0, top: 270, width: 400, height: 275 }} plot={{ x0: 67, x1: 374, y0: 297, y1: 530 }}
        xDomain={[-15.05, 338.05]} xTicks={[0, 300]} yDomain={[-200, 4190]} yTicks={[0, 1000, 2000, 3000, 4000]}
        yFmt={fmt0} vline={trainSplit}
        series={[{ name: 'Alive', data: trainAlive, color: ORANGE }, { name: 'Dead', data: trainDead, color: BLUE }]}
      />
      <PatientScatter
        box={{ left: 400, top: 270, width: 397, height: 275 }} plot={{ x0: 489, x1: 794, y0: 297, y1: 530 }}
        xDomain={[-27.9, 607.9]} xTicks={[0, 600]} yDomain={[-310, 6410]} yTicks={[0, 2000, 4000, 6000]}
        yFmt={fmt0} vline={gseSplit}
        series={[{ name: 'Alive', data: gseAlive, color: ORANGE }, { name: 'Dead', data: gseDead, color: BLUE }]}
      />

      {/* Kaplan-Meier */}
      <KmPlot
        box={{ left: 0, top: 540, width: 400, height: 210 }} plot={{ x0: 74, x1: 372, y0: 569, y1: 728 }}
        xDomain={[-160, 4200]} xTicks={trainRiskTimes} xMinor={[500, 1500, 2500, 3500]}
        high={trainHighKm} low={trainLowKm} highCi={trainHighCi} lowCi={trainLowCi}
        highCens={trainHighCensor} lowCens={trainLowCensor} medians={trainMedians}
      />
      <KmPlot
        box={{ left: 400, top: 540, width: 397, height: 210 }} plot={{ x0: 498, x1: 793, y0: 569, y1: 728 }}
        xDomain={[-220, 6240]} xTicks={gseRiskTimes} xMinor={[500, 1500, 2500, 3500, 4500, 5500]}
        high={gseHighKm} low={gseLowKm} highCi={gseHighCi} lowCi={gseLowCi}
        highCens={gseHighCensor} lowCens={gseLowCensor} medians={gseMedians}
      />
      <RiskTable
        box={{ left: 0, top: 750, width: 400, height: 60 }} plot={{ x0: 74, x1: 372, y0: 759, y1: 794 }}
        xDomain={[-160, 4200]} xTicks={trainRiskTimes} xMinor={[500, 1500, 2500, 3500]}
        times={trainRiskTimes} highN={trainHighAtRisk} lowN={trainLowAtRisk}
      />
      <RiskTable
        box={{ left: 400, top: 750, width: 397, height: 60 }} plot={{ x0: 498, x1: 793, y0: 759, y1: 794 }}
        xDomain={[-220, 6240]} xTicks={gseRiskTimes} xMinor={[500, 1500, 2500, 3500, 4500, 5500]}
        times={gseRiskTimes} highN={gseHighAtRisk} lowN={gseLowAtRisk}
      />

      {/* ROC */}
      <RocPlot
        box={{ left: 0, top: 815, width: 400, height: 252 }} plot={{ x0: 87, x1: 348, y0: 840, y1: 1037 }}
        curves={[
          { name: '1y', pts: trainRoc1y, color: '#FF3B1F' },
          { name: '5y', pts: trainRoc5y, color: '#A6F22B' },
          { name: '3y', pts: trainRoc3y, color: '#22C7DA' },
        ]}
      />
      <RocPlot
        box={{ left: 400, top: 815, width: 397, height: 252 }} plot={{ x0: 494, x1: 754, y0: 840, y1: 1037 }}
        curves={[
          { name: 'a', pts: gseRocA, color: '#FF3B1F' },
          { name: 'b', pts: gseRocB, color: '#A6F22B' },
          { name: 'c', pts: gseRocC, color: '#22C7DA' },
        ]}
      />
      <RocLegend x={207} y={1012.5} rows={trainRocLegend} />
      <RocLegend x={615} y={1012.5} rows={gseRocLegend} />

      {/* panel letters */}
      <Txt x={0} y={13} size={18} bold anchor="start">(A)</Txt>
      <Txt x={415} y={13} size={18} bold anchor="start">(D)</Txt>
      <Txt x={0} y={562} size={18} bold anchor="start">(B)</Txt>
      <Txt x={415} y={562} size={18} bold anchor="start">(E)</Txt>
      <Txt x={0} y={845} size={18} bold anchor="start">(C)</Txt>
      <Txt x={415} y={845} size={18} bold anchor="start">(F)</Txt>

      {/* scatter legends */}
      <Txt x={165} y={20} anchor="start">risk</Txt>
      <Dot x={188} y={20} color={ORANGE} />
      <Txt x={198} y={20} anchor="start">High_risk</Txt>
      <Dot x={237} y={20} color={BLUE} />
      <Txt x={247} y={20} anchor="start">Low_risk</Txt>
      <Txt x={586} y={20} anchor="start">risk</Txt>
      <Dot x={610} y={20} color={ORANGE} />
      <Txt x={620} y={20} anchor="start">High_risk</Txt>
      <Dot x={659} y={20} color={BLUE} />
      <Txt x={669} y={20} anchor="start">Low_risk</Txt>
      <Txt x={178} y={285} anchor="start">life</Txt>
      <Dot x={199} y={285} color={ORANGE} />
      <Txt x={210} y={285} anchor="start">Alive</Txt>
      <Dot x={234} y={285} color={BLUE} />
      <Txt x={245} y={285} anchor="start">Dead</Txt>
      <Txt x={601} y={285} anchor="start">life</Txt>
      <Dot x={622} y={285} color={ORANGE} />
      <Txt x={632} y={285} anchor="start">Alive</Txt>
      <Dot x={657} y={285} color={BLUE} />
      <Txt x={667} y={285} anchor="start">Dead</Txt>

      {/* scatter axis titles */}
      <Txt x={220} y={270}>Patients(increasing riskScore)</Txt>
      <Txt x={220} y={535}>Patients(increasing riskScore)</Txt>
      <Txt x={644} y={270}>Patients(increasing riskScore)</Txt>
      <Txt x={644} y={535}>Patients(increasing riskScore)</Txt>
      <Txt x={40} y={147} rotate>riskScore</Txt>
      <Txt x={40} y={407} rotate>OS_time</Txt>
      <Txt x={461} y={147} rotate>riskScore</Txt>
      <Txt x={462} y={407} rotate>OS_time</Txt>

      {/* KM legends and labels */}
      <Txt x={171} y={555} anchor="start">Risk</Txt>
      <KmKey x={189} y={555} color={ORANGE} />
      <Txt x={205} y={555} anchor="start">high_risk</Txt>
      <KmKey x={234} y={555} color={BLUE} dashed />
      <Txt x={249} y={555} anchor="start">low_risk</Txt>
      <Txt x={595} y={555} anchor="start">Risk</Txt>
      <KmKey x={613} y={555} color={ORANGE} />
      <Txt x={629} y={555} anchor="start">high_risk</Txt>
      <KmKey x={658} y={555} color={BLUE} dashed />
      <Txt x={673} y={555} anchor="start">low_risk</Txt>
      <Txt x={36} y={637} rotate>Survival Percentage</Txt>
      <Txt x={460} y={637} rotate>Survival Percentage</Txt>
      <Txt x={89} y={693} anchor="start">{trainP}</Txt>
      <Txt x={514} y={693} anchor="start">{gseP}</Txt>
      <Txt x={223} y={741.5}>Time(Days)</Txt>
      <Txt x={648} y={741.5}>Time(Days)</Txt>
      <Txt x={71} y={751} anchor="start">Number at risk</Txt>
      <Txt x={495} y={751} anchor="start">Number at risk</Txt>
      <Txt x={36} y={777} rotate>Risk</Txt>
      <Txt x={460} y={777} rotate>Risk</Txt>
      <Txt x={223} y={808}>Time(Days)</Txt>
      <Txt x={648} y={808}>Time(Days)</Txt>

      {/* ROC titles */}
      <Txt x={209} y={824} bold>SurvivalROC for Training Set</Txt>
      <Txt x={616} y={824} bold>SurvivalROC for GSE39582 cohort</Txt>
      <Txt x={217} y={1063}>False Positive rate</Txt>
      <Txt x={625} y={1063}>False Positive rate</Txt>
      <Txt x={52} y={932} rotate>True Positive rate</Txt>
      <Txt x={460} y={932} rotate>True Positive rate</Txt>
    </div>
  );
}
